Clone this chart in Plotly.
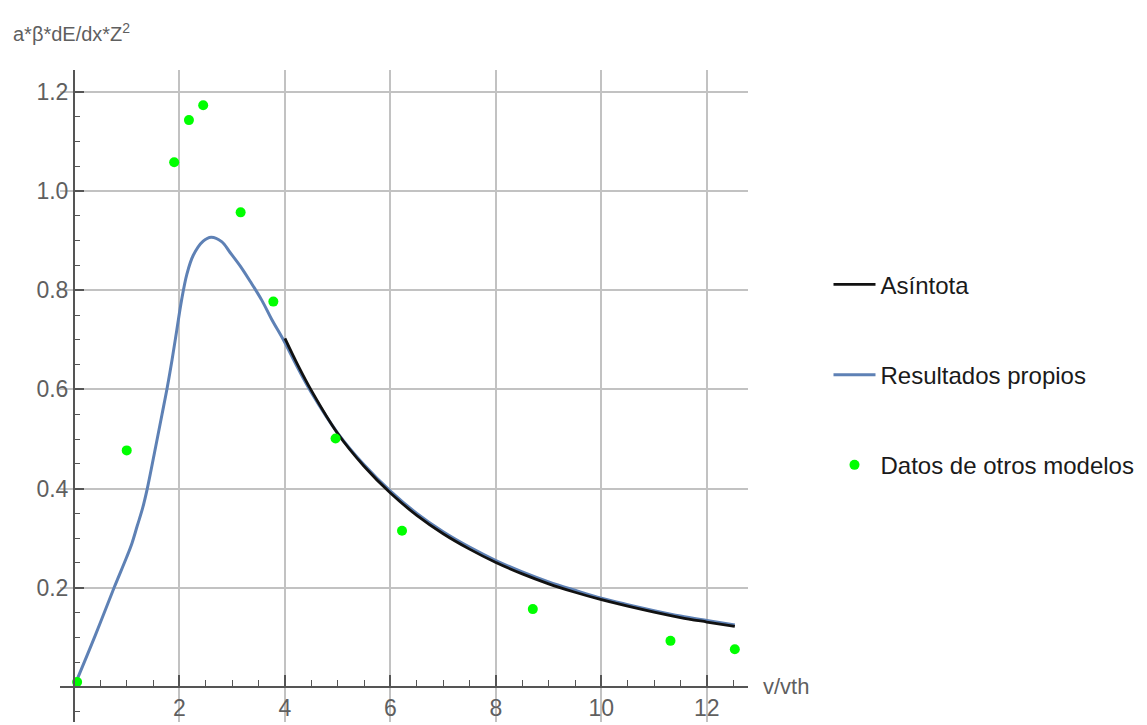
import plotly.graph_objects as go

# Data
own_x = [0, 0.4, 0.76, 1.0, 1.1, 1.2, 1.3, 1.39, 1.55, 1.67, 1.77, 1.86, 1.95, 2.04, 2.14, 2.26,
         2.45, 2.6, 2.8, 2.96, 3.15, 3.34, 3.56, 3.75, 3.97, 4.25, 4.5, 5.0, 5.5, 6.0,
         6.5, 7.0, 7.5, 8.0, 8.5, 9.0, 9.5, 10.0, 10.5, 11.0, 11.5, 12.0, 12.53]
own_y = [0, 0.103, 0.2, 0.262, 0.29, 0.325, 0.36, 0.40, 0.485, 0.55, 0.605, 0.66, 0.72, 0.78, 0.832, 0.87,
         0.899, 0.907, 0.898, 0.876, 0.849, 0.818, 0.78, 0.741, 0.70, 0.642, 0.594, 0.512, 0.448, 0.395,
         0.35, 0.313, 0.282, 0.255, 0.232, 0.212, 0.195, 0.179, 0.166, 0.154, 0.143, 0.134, 0.125]

asym_x = [4.0, 4.25, 4.5, 5.0, 5.5, 6.0, 6.5, 7.0, 7.5, 8.0, 8.5, 9.0, 9.5, 10.0,
          10.5, 11.0, 11.5, 12.0, 12.53]
asym_y = [0.703, 0.648, 0.598, 0.511, 0.445, 0.391, 0.346, 0.309, 0.278, 0.251, 0.228, 0.208,
          0.191, 0.176, 0.163, 0.151, 0.140, 0.131, 0.122]

other_x = [0.06, 1.0, 1.9, 2.18, 2.45, 3.16, 3.78, 4.96, 6.22, 8.70, 11.31, 12.53]
other_y = [0.01, 0.477, 1.058, 1.143, 1.173, 0.957, 0.777, 0.501, 0.315, 0.157, 0.093, 0.076]

x_ticks = [2, 4, 6, 8, 10, 12]
y_ticks = [0.2, 0.4, 0.6, 0.8, 1.0, 1.2]
y_tick_text = ["0.2", "0.4", "0.6", "0.8", "1.0", "1.2"]

x_range = [-0.265, 12.78]
y_range = [-0.0706, 1.244]

FONT = "Liberation Sans, Arial, sans-serif"
AXIS_COL = "#555555"
GRID_COL = "#c2c2c2"
TICK_COL = "#5f5f5f"

fig = go.Figure()
fig.add_trace(go.Scatter(
    x=own_x, y=own_y, mode="lines", name="Resultados propios",
    line=dict(color="#5e81b5", width=3, shape="spline", smoothing=1.0),
    legendrank=2, legendgroup="g2",
))
fig.add_trace(go.Scatter(
    x=asym_x, y=asym_y, mode="lines", name="Asíntota",
    line=dict(color="#111111", width=2.8, shape="spline", smoothing=1.0),
    legendrank=1, legendgroup="g1",
))
fig.add_trace(go.Scatter(
    x=other_x, y=other_y, mode="markers", name="Datos de otros modelos",
    marker=dict(color="#00ff00", size=10, line=dict(width=0)),
    legendrank=3, legendgroup="g3",
))

fig.update_layout(
    width=1147, height=725,
    # page body has an 8px default margin: compensate so the plot area sits at
    # window pixels x 60..748, y 70..722
    margin=dict(l=52, r=407, t=62, b=11, autoexpand=False),
    paper_bgcolor="white", plot_bgcolor="white",
    showlegend=True,
    legend=dict(
        x=1.117, y=0.705, xanchor="left", yanchor="top",
        font=dict(family=FONT, size=24, color="#1a1a1a"),
        tracegroupgap=56, itemwidth=42,
        bgcolor="rgba(0,0,0,0)",
        traceorder="grouped",
    ),
    xaxis=dict(
        range=x_range, anchor="free", position=0.0706 / (y_range[1] - y_range[0]),
        tickmode="array", tickvals=x_ticks, ticktext=[str(v) for v in x_ticks],
        ticks="inside", ticklen=11, tickwidth=1.5, tickcolor=AXIS_COL,
        minor=dict(dtick=0.5, tick0=0, ticks="inside", ticklen=6, tickwidth=1.2,
                   tickcolor=AXIS_COL, showgrid=False),
        showline=True, linecolor=AXIS_COL, linewidth=2,
        showgrid=True, gridcolor=GRID_COL, gridwidth=1.5,
        zeroline=False, automargin=False,
        tickfont=dict(family=FONT, size=23, color=TICK_COL),
    ),
    yaxis=dict(
        range=y_range, anchor="free", position=0.265 / (x_range[1] - x_range[0]),
        tickmode="array", tickvals=y_ticks, ticktext=y_tick_text,
        ticks="inside", ticklen=9, tickwidth=1.5, tickcolor=AXIS_COL,
        minor=dict(dtick=0.05, tick0=0, ticks="inside", ticklen=5, tickwidth=1.2,
                   tickcolor=AXIS_COL, showgrid=False),
        showline=True, linecolor=AXIS_COL, linewidth=2,
        showgrid=True, gridcolor=GRID_COL, gridwidth=1.5,
        zeroline=False, automargin=False,
        tickfont=dict(family=FONT, size=23, color=TICK_COL),
    ),
    annotations=[
        dict(text="a*β*dE/dx*Z<sup>2</sup>", xref="paper", yref="paper",
             x=-0.071, y=1.035, xanchor="left", yanchor="bottom", showarrow=False,
             font=dict(family=FONT, size=20, color=TICK_COL)),
        dict(text="v/vth", xref="paper", yref="paper",
             x=1.019, y=0.0706 / (y_range[1] - y_range[0]), xanchor="left", yanchor="middle",
             showarrow=False,
             font=dict(family=FONT, size=22, color=TICK_COL)),
    ],
)

fig.write_html("out.html")
